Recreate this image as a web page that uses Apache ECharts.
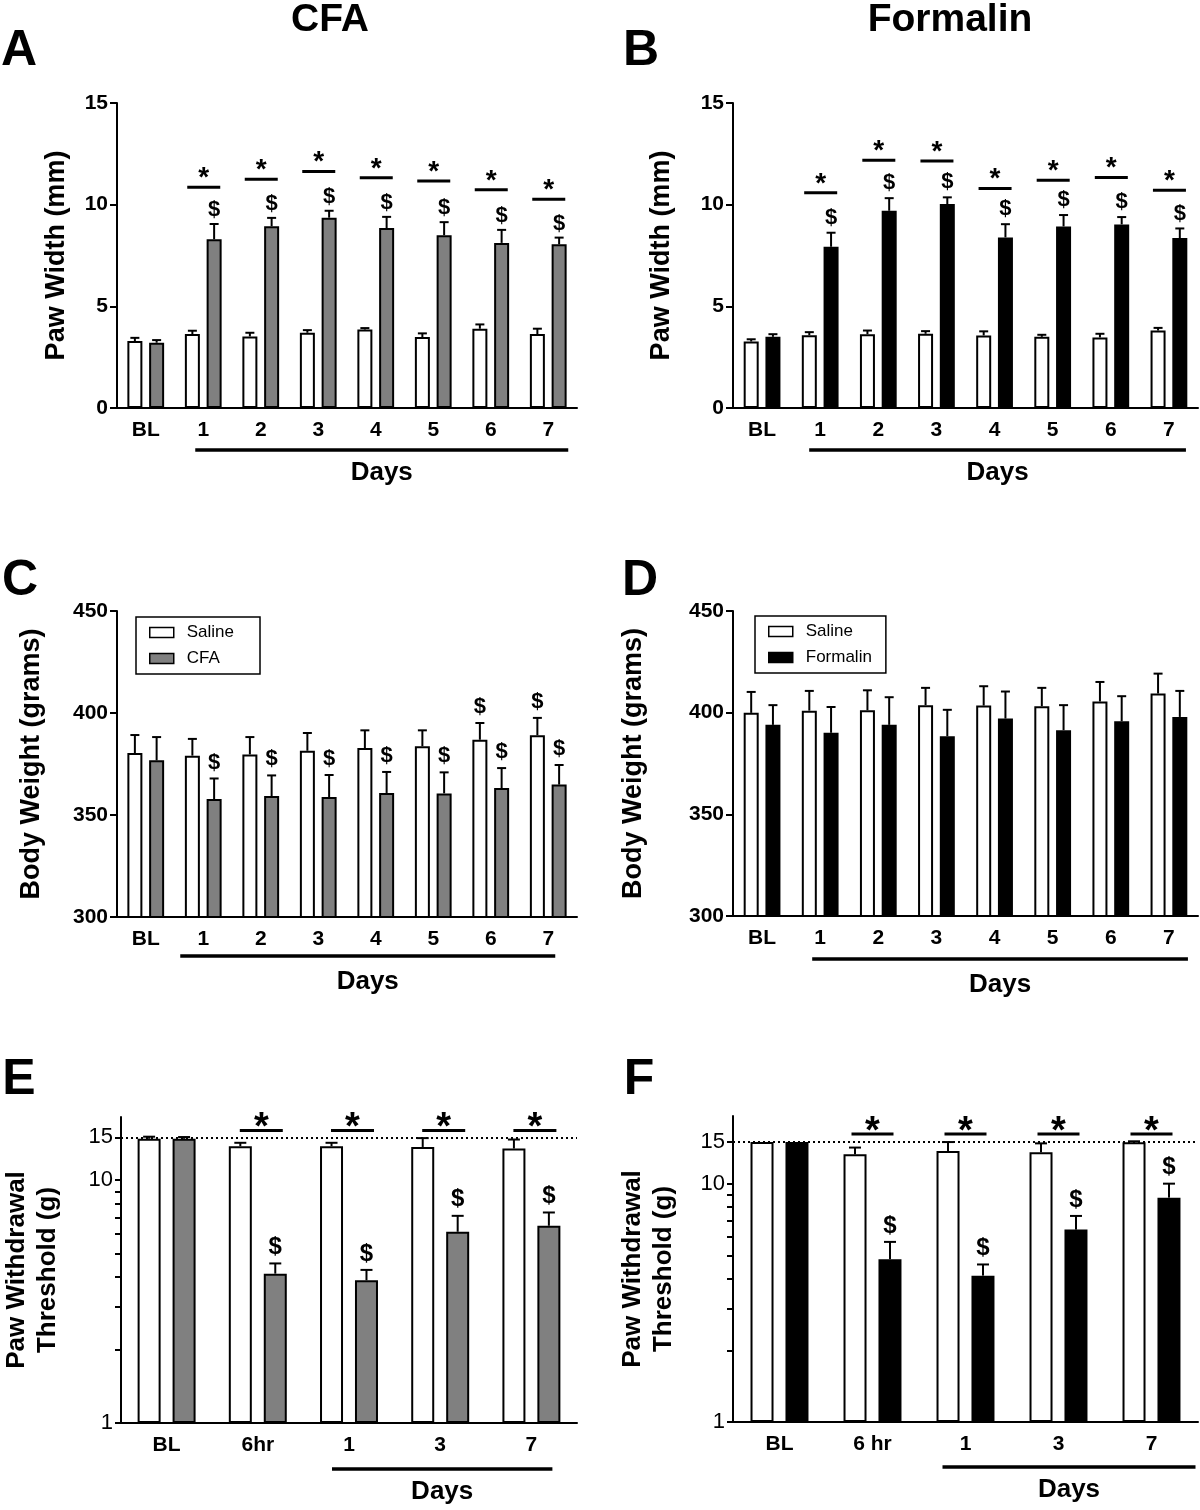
<!DOCTYPE html>
<html><head><meta charset="utf-8">
<script src="https://cdn.jsdelivr.net/npm/echarts@6/dist/echarts.min.js"></script>
<style>html,body{margin:0;padding:0;background:#fff}#c{width:1200px;height:1510px}</style>
</head><body><div id="c"></div>
<script>
// ---------- DATA ----------
const daysCats = ['BL', '1', '2', '3', '4', '5', '6', '7'];
const timeCatsE = ['BL', '6hr', '1', '3', '7'];
const timeCatsF = ['BL', '6 hr', '1', '3', '7'];

// A: Paw width, CFA
const pawSalineA = [3.29, 3.64, 3.52, 3.70, 3.86, 3.49, 3.90, 3.64];
const pawSalineErrA = [0.16, 0.16, 0.18, 0.13, 0.07, 0.18, 0.21, 0.26];
const pawCfaA = [3.21, 8.30, 8.94, 9.36, 8.85, 8.50, 8.12, 8.05];
const pawCfaErrA = [0.13, 0.75, 0.41, 0.34, 0.55, 0.64, 0.64, 0.33];
const starA = [null, 10.86, 11.25, 11.63, 11.32, 11.17, 10.73, 10.27];
const dollarSalineA = [0, 0, 0, 0, 0, 0, 0, 0];
const dollarCfaA = [0, 1, 1, 1, 1, 1, 1, 1];

// B: Paw width, Formalin
const pawSalineB = [3.27, 3.58, 3.63, 3.65, 3.57, 3.50, 3.47, 3.81];
const pawSalineErrB = [0.11, 0.15, 0.18, 0.13, 0.20, 0.10, 0.18, 0.13];
const pawFormalinB = [3.50, 7.93, 9.70, 10.03, 8.39, 8.93, 9.03, 8.36];
const pawFormalinErrB = [0.13, 0.69, 0.62, 0.33, 0.65, 0.56, 0.36, 0.47];
const starB = [null, 10.58, 12.19, 12.15, 10.80, 11.20, 11.34, 10.71];
const dollarSalineB = [0, 0, 0, 0, 0, 0, 0, 0];
const dollarFormalinB = [0, 1, 1, 1, 1, 1, 1, 1];

// C: Body weight, CFA
const bwSalineC = [380.4, 379.1, 379.7, 381.5, 382.8, 383.7, 386.9, 389.1];
const bwSalineErrC = [8.8, 8.2, 8.5, 8.7, 8.7, 7.8, 8.2, 8.5];
const bwCfaC = [376.8, 357.8, 359.3, 358.8, 360.8, 360.6, 363.2, 364.9];
const bwCfaErrC = [11.4, 10.1, 10.1, 10.8, 10.3, 10.3, 9.8, 9.6];
const starC = [null, null, null, null, null, null, null, null];
const dollarSalineC = [0, 0, 0, 0, 0, 0, 1, 1];
const dollarCfaC = [0, 1, 1, 1, 1, 1, 1, 1];

// D: Body weight, Formalin
const bwSalineD = [399.9, 401.0, 401.2, 403.7, 403.5, 403.2, 405.5, 409.4];
const bwSalineErrD = [10.3, 9.7, 9.8, 8.5, 9.5, 9.0, 9.6, 9.8];
const bwFormalinD = [394.0, 390.1, 394.0, 388.4, 397.1, 391.4, 395.8, 397.9];
const bwFormalinErrD = [9.7, 12.7, 13.6, 13.0, 13.3, 12.3, 12.3, 12.8];
const starD = [null, null, null, null, null, null, null, null];
const dollarSalineD = [0, 0, 0, 0, 0, 0, 0, 0];
const dollarFormalinD = [0, 0, 0, 0, 0, 0, 0, 0];

// E: Paw withdrawal threshold, CFA
const pwtSalineE = [14.8, 13.8, 13.8, 13.7, 13.5];
const pwtSalineErrE = [0.3, 0.45, 0.45, 1.2, 1.2];
const pwtCfaE = [14.8, 4.12, 3.87, 6.13, 6.49];
const pwtCfaErrE = [0.25, 0.42, 0.40, 1.0, 0.87];
const starE = [null, 16.0, 16.0, 16.0, 16.0];
const dollarSalineE = [0, 0, 0, 0, 0];
const dollarCfaE = [0, 1, 1, 1, 1];

// F: Paw withdrawal threshold, Formalin
const pwtSalineF = [15.0, 13.32, 13.76, 13.58, 14.96];
const pwtSalineErrF = [0, 0.9, 1.24, 1.23, 0.15];
const pwtFormalinF = [15.0, 4.83, 4.12, 6.43, 8.76];
const pwtFormalinErrF = [0, 0.88, 0.47, 0.91, 1.27];
const starF = [null, 16.2, 16.2, 16.2, 16.2];
const dollarSalineF = [0, 0, 0, 0, 0];
const dollarFormalinF = [0, 1, 1, 1, 1];

const pwtLabelValues = [1, 10, 15];
const pwtTickValues = [1, 2, 3, 4, 5, 6, 7, 8, 9, 10, 15];
const thresholdLine = 15;

// ---------- STYLE / LAYOUT ----------
const FONT = '"Liberation Sans", Arial, Helvetica, sans-serif';
const GRAY = '#808080';
const BLACK = '#000000';

const panels = [
  { cats: daysCats, left: 117, top: 103, width: 460, height: 305, log: false, min: 0, max: 15, interval: 5,
    name: 'Paw Width (mm)', nameGap: 45, nameSize: 27, s: [pawSalineA, pawSalineErrA, dollarSalineA], t: [pawCfaA, pawCfaErrA, dollarCfaA],
    tName: 'CFA', tColor: GRAY, star: starA, barW: 15, gap: 0.45, cap: 4.5, starL: -16, starR: 17, starFont: 28, starDy: -9,
    dolFont: 22, dolGap: 14, br: { from: 1, to: 7, dl: -8, dr: 20, dy: 42, ty: 65 } },
  { cats: daysCats, left: 733, top: 103, width: 465, height: 305, log: false, min: 0, max: 15, interval: 5,
    name: 'Paw Width (mm)', nameGap: 56, nameSize: 27, s: [pawSalineB, pawSalineErrB, dollarSalineB], t: [pawFormalinB, pawFormalinErrB, dollarFormalinB],
    tName: 'Formalin', tColor: BLACK, star: starB, barW: 15, gap: 0.45, cap: 4.5, starL: -16, starR: 17, starFont: 28, starDy: -9,
    dolFont: 22, dolGap: 15, br: { from: 1, to: 7, dl: -11, dr: 17, dy: 42, ty: 65 } },
  { cats: daysCats, left: 117, top: 611, width: 460, height: 306, log: false, min: 300, max: 450, interval: 50,
    name: 'Body Weight (grams)', nameGap: 70, nameSize: 27, s: [bwSalineC, bwSalineErrC, dollarSalineC], t: [bwCfaC, bwCfaErrC, dollarCfaC],
    tName: 'CFA', tColor: GRAY, star: starC, barW: 15, gap: 0.45, cap: 4.5, starL: -16, starR: 17, starFont: 28, starDy: -9,
    dolFont: 22, dolGap: 16, br: { from: 1, to: 7, dl: -23, dr: 7, dy: 39, ty: 65 } },
  { cats: daysCats, left: 733, top: 611, width: 465, height: 305, log: false, min: 300, max: 450, interval: 50,
    name: 'Body Weight (grams)', nameGap: 84, nameSize: 27, s: [bwSalineD, bwSalineErrD, dollarSalineD], t: [bwFormalinD, bwFormalinErrD, dollarFormalinD],
    tName: 'Formalin', tColor: BLACK, star: starD, barW: 15, gap: 0.45, cap: 4.5, starL: -16, starR: 17, starFont: 28, starDy: -9,
    dolFont: 22, dolGap: 16, br: { from: 1, to: 7, dl: -8, dr: 19, dy: 43, ty: 69 } },
  { cats: timeCatsE, left: 117, top: 1117, width: 460, height: 306, log: true, min: 1, max: 18.2,
    name: 'Paw Withdrawal\nThreshold (g)', nameGap: 58, nameSize: 26, s: [pwtSalineE, pwtSalineErrE, dollarSalineE], t: [pwtCfaE, pwtCfaErrE, dollarCfaE],
    tName: 'CFA', tColor: GRAY, star: starE, barW: 23, gap: 0.52, cap: 6, starL: -18, starR: 25, starFont: 38, starDy: -2,
    dolFont: 24, dolGap: 16, br: { from: 2, to: 4, dl: -17, dr: 21, dy: 46, ty: 69 } },
  { cats: timeCatsF, left: 733, top: 1116, width: 465, height: 306, log: true, min: 1, max: 19.3,
    name: 'Paw Withdrawal\nThreshold (g)', nameGap: 54, nameSize: 26, s: [pwtSalineF, pwtSalineErrF, dollarSalineF], t: [pwtFormalinF, pwtFormalinErrF, dollarFormalinF],
    tName: 'Formalin', tColor: BLACK, star: starF, barW: 23, gap: 0.52, cap: 6, starL: -21, starR: 21, starFont: 38, starDy: -2,
    dolFont: 24, dolGap: 16, br: { from: 2, to: 4, dl: -23, dr: 44, dy: 45, ty: 68 } }
];

function textEl(x, y, text, font) {
  return { type: 'text', x: x, y: y, style: { text: text, font: font, fill: BLACK,
    align: 'center', verticalAlign: 'middle', textAlign: 'center', textVerticalAlign: 'middle' } };
}

function errRender(off, cap, dolFont, dolGap) {
  return function (params, api) {
    const i = api.value(0), v = api.value(1), e = api.value(2), flag = api.value(3);
    const b = api.coord([i, v]);
    const t = api.coord([i, v + e]);
    const x = b[0] + off;
    const ch = [];
    if (e > 0) {
      ch.push({ type: 'line', shape: { x1: x, y1: b[1], x2: x, y2: t[1] }, style: { stroke: BLACK, lineWidth: 2 } });
      ch.push({ type: 'line', shape: { x1: x - cap, y1: t[1], x2: x + cap, y2: t[1] }, style: { stroke: BLACK, lineWidth: 2 } });
    }
    if (flag) ch.push(textEl(x, t[1] - dolGap, '$', 'bold ' + dolFont + 'px ' + FONT));
    return { type: 'group', children: ch };
  };
}

function starRender(l, r, font, dy) {
  return function (params, api) {
    const p = api.coord([api.value(0), api.value(1)]);
    return { type: 'group', children: [
      { type: 'line', shape: { x1: p[0] + l, y1: p[1], x2: p[0] + r, y2: p[1] }, style: { stroke: BLACK, lineWidth: 3 } },
      textEl(p[0] + (l + r) / 2, p[1] + dy, '*', 'bold ' + font + 'px ' + FONT)
    ] };
  };
}

function bracketRender(br, yBase) {
  return function (params, api) {
    const a = api.coord([api.value(0), yBase]);
    const b = api.coord([api.value(2), yBase]);
    const x1 = a[0] + br.dl, x2 = b[0] + br.dr, y = a[1] + br.dy;
    return { type: 'group', children: [
      { type: 'line', shape: { x1: x1, y1: y, x2: x2, y2: y }, style: { stroke: BLACK, lineWidth: 3.5 } },
      textEl((x1 + x2) / 2, a[1] + br.ty, 'Days', 'bold 26px ' + FONT)
    ] };
  };
}

const grid = [], xAxis = [], yAxis = [], series = [];
panels.forEach(function (P, k) {
  grid.push({ left: P.left, top: P.top, width: P.width, height: P.height, containLabel: false });
  xAxis.push({
    type: 'category', gridIndex: k, data: P.cats, boundaryGap: true,
    axisLine: { lineStyle: { color: BLACK, width: 2 } },
    axisTick: { alignWithLabel: true, length: 6, lineStyle: { color: BLACK, width: 2 } },
    axisLabel: { color: BLACK, fontFamily: FONT, fontWeight: 'bold', fontSize: 21, margin: 12, interval: 0 },
    splitLine: { show: false }
  });
  const ya = {
    gridIndex: k, min: P.min, max: P.max, name: P.name, nameLocation: 'middle', nameGap: P.nameGap, nameRotate: 90,
    nameTextStyle: { color: BLACK, fontFamily: FONT, fontWeight: 'bold', fontSize: P.nameSize, lineHeight: 31 },
    axisLine: { show: true, lineStyle: { color: BLACK, width: 2 } },
    axisTick: { show: true, length: 7, lineStyle: { color: BLACK, width: 2 } },
    axisLabel: { color: BLACK, fontFamily: FONT, fontWeight: 'bold', fontSize: 21, margin: 9 },
    splitLine: { show: false }
  };
  if (P.log) {
    ya.type = 'log'; ya.logBase = 10;
    ya.axisLabel = { color: BLACK, fontFamily: FONT, fontWeight: 'normal', fontSize: 22, margin: 8, customValues: pwtLabelValues };
    ya.axisTick = { show: true, length: 6, customValues: pwtTickValues, lineStyle: { color: BLACK, width: 2 } };
  } else {
    ya.type = 'value'; ya.interval = P.interval;
  }
  yAxis.push(ya);

  const off = (P.barW * (1 + P.gap)) / 2;
  const salineBar = {
    type: 'bar', name: 'Saline', xAxisIndex: k, yAxisIndex: k, data: P.s[0], barWidth: P.barW, barGap: (P.gap * 100) + '%',
    itemStyle: { color: '#ffffff', borderColor: BLACK, borderWidth: 2 }, emphasis: { disabled: true }, silent: true
  };
  if (P.log) {
    salineBar.markLine = { silent: true, symbol: 'none', data: [{ yAxis: thresholdLine }], label: { show: false },
      lineStyle: { type: [2, 3], color: BLACK, width: 2 }, emphasis: { disabled: true } };
  }
  series.push(salineBar);
  series.push({
    type: 'bar', name: P.tName, xAxisIndex: k, yAxisIndex: k, data: P.t[0], barWidth: P.barW, barGap: (P.gap * 100) + '%',
    itemStyle: { color: P.tColor, borderColor: BLACK, borderWidth: 2 }, emphasis: { disabled: true }, silent: true
  });
  [[P.s, -off], [P.t, off]].forEach(function (g) {
    const arr = g[0];
    series.push({
      type: 'custom', xAxisIndex: k, yAxisIndex: k, clip: false, silent: true, z: 5,
      renderItem: errRender(g[1], P.cap, P.dolFont, P.dolGap),
      data: arr[0].map(function (v, i) { return [i, v, arr[1][i], arr[2][i]]; })
    });
  });
  const sd = [];
  P.star.forEach(function (v, i) { if (v != null) sd.push([i, v]); });
  if (sd.length) series.push({ type: 'custom', xAxisIndex: k, yAxisIndex: k, clip: false, silent: true, z: 5,
    renderItem: starRender(P.starL, P.starR, P.starFont, P.starDy), data: sd });
  series.push({ type: 'custom', xAxisIndex: k, yAxisIndex: k, clip: false, silent: true, z: 5,
    renderItem: bracketRender(P.br, P.min), data: [[P.br.from, P.min, P.br.to]] });
});

const legendBase = {
  orient: 'vertical', icon: 'rect', itemWidth: 24, itemHeight: 10, itemGap: 9,
  borderColor: BLACK, borderWidth: 1.5, backgroundColor: '#fff',
  textStyle: { color: BLACK, fontFamily: FONT, fontSize: 17, padding: [0, 0, 0, 8] },
  itemStyle: { borderColor: BLACK, borderWidth: 1.5 }, selectedMode: false
};

const option = {
  backgroundColor: '#ffffff',
  animation: false,
  grid: grid, xAxis: xAxis, yAxis: yAxis, series: series,
  legend: [
    Object.assign({}, legendBase, { left: 136, top: 617, data: ['Saline', 'CFA'], padding: [7, 26, 7, 13] }),
    Object.assign({}, legendBase, { left: 755, top: 616, data: ['Saline', 'Formalin'], padding: [7, 14, 7, 13] })
  ],
  graphic: [
    textEl(330, 20, 'CFA', 'bold 39px ' + FONT),
    textEl(950, 20, 'Formalin', 'bold 39px ' + FONT),
    textEl(19, 51, 'A', 'bold 50px ' + FONT),
    textEl(641, 51, 'B', 'bold 50px ' + FONT),
    textEl(20, 581, 'C', 'bold 50px ' + FONT),
    textEl(640, 581, 'D', 'bold 50px ' + FONT),
    textEl(19, 1080, 'E', 'bold 50px ' + FONT),
    textEl(639, 1080, 'F', 'bold 50px ' + FONT)
  ]
};

const chart = echarts.init(document.getElementById('c'));
chart.setOption(option);
</script>
</body></html>
